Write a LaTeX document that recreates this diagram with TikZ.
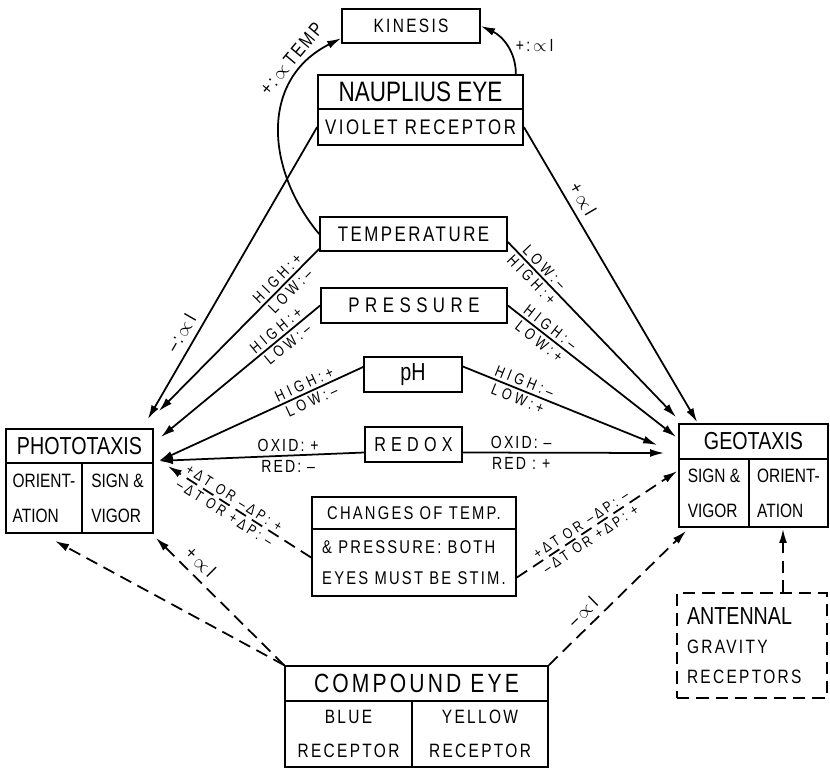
\documentclass[tikz,border=0pt]{standalone}
\usepackage{fontspec}
\setmainfont{Liberation Sans}[FakeStretch=0.8]
\newfontfamily\lsA{Liberation Sans}[FakeStretch=0.8,LetterSpace=12]
\newfontfamily\lsB{Liberation Sans}[FakeStretch=0.8,LetterSpace=26]
\newfontfamily\lsL{Liberation Sans}[FakeStretch=0.8,LetterSpace=25]
\newfontfamily\lsD{Liberation Sans}[FakeStretch=0.8,LetterSpace=21]
\usepackage{tikz}
\usetikzlibrary{arrows.meta, calc}

\tikzset{
  box/.style={draw, line width=1pt, inner sep=0pt},
  lnk/.style={line width=1pt, ->},
  dlnk/.style={line width=1pt, ->, dash pattern=on 7pt off 4pt},
  slbl/.style={font=\lsL\fontsize{9}{10}\selectfont, inner sep=1.5pt, sloped},
  dlbl/.style={font=\lsD\fontsize{8.5}{9}\selectfont, inner sep=1.5pt, sloped},
  plbl/.style={font=\lsA\fontsize{11}{12}\selectfont, inner sep=2pt, sloped},
  rlbl/.style={font=\lsA\fontsize{10}{11}\selectfont, inner sep=2pt},
}

\begin{document}
\begin{tikzpicture}[x=0.02cm, y=0.02cm, >={Latex[length=8pt,width=4.5pt]}]
    \useasboundingbox (0,0) rectangle (830,769);

    % 1. Kinesis and nauplius eye
    \node[box, minimum width=2.76cm, minimum height=0.68cm, font=\lsA\fontsize{11}{12}\selectfont] (kinesis) at (411,743) {KINESIS};
    \node[box, minimum width=4.1cm, minimum height=0.68cm, font=\fontsize{16}{18}\selectfont] (naup) at (420.5,677) {NAUPLIUS EYE};
    \node[box, minimum width=4.1cm, minimum height=0.72cm, font=\lsA\fontsize{12}{14}\selectfont] (violet) at (420.5,642) {VIOLET RECEPTOR};

    % 2. Stimuli in the middle
    \node[box, minimum width=3.74cm, minimum height=0.68cm, font=\lsA\fontsize{12}{14}\selectfont] (temp) at (413.5,535) {TEMPERATURE};
    \node[box, minimum width=3.72cm, minimum height=0.70cm, font=\lsB\fontsize{12}{14}\selectfont] (press) at (414,463.5) {PRESSURE};
    \node[box, minimum width=1.96cm, minimum height=0.70cm, font=\fontsize{14}{16}\selectfont] (ph) at (413,394.5) {pH};
    \node[box, minimum width=1.94cm, minimum height=0.70cm, font=\lsB\fontsize{11.5}{13}\selectfont] (redox) at (413.5,324.5) {REDOX};
    \node[box, minimum width=4.08cm, minimum height=0.64cm, font=\lsA\fontsize{10.5}{12}\selectfont] (chgtop) at (414,256) {CHANGES OF TEMP.};
    \node[box, minimum width=4.08cm, minimum height=1.34cm, align=left, font=\lsA\fontsize{10.5}{17.5}\selectfont] (chgbot) at (414,206.5) {\& PRESSURE: BOTH\\EYES MUST BE STIM.};

    % 3. Phototaxis and geotaxis
    \node[box, minimum width=2.94cm, minimum height=0.68cm, font=\fontsize{14}{16}\selectfont] (photo) at (79.5,323) {PHOTOTAXIS};
    \node[box, minimum width=1.52cm, minimum height=1.40cm, align=left, font=\fontsize{11}{20}\selectfont] (photoL) at (44,271) {ORIENT-\\ATION};
    \node[box, minimum width=1.42cm, minimum height=1.40cm, align=left, font=\fontsize{11}{20}\selectfont] (photoR) at (117.5,271) {SIGN \&\\VIGOR};
    \node[box, minimum width=2.98cm, minimum height=0.70cm, font=\fontsize{14}{16}\selectfont] (geo) at (753.5,327.5) {GEOTAXIS};
    \node[box, minimum width=1.40cm, minimum height=1.36cm, align=left, font=\fontsize{11}{20}\selectfont] (geoL) at (714,276) {SIGN \&\\VIGOR};
    \node[box, minimum width=1.58cm, minimum height=1.36cm, align=left, font=\fontsize{11}{20}\selectfont] (geoR) at (788.5,276) {ORIENT-\\ATION};

    % 4. Receptors below
    \node[box, dash pattern=on 7pt off 4pt, minimum width=3.0cm, minimum height=2.10cm, text width=2.6cm, align=left, font=\lsA\fontsize{11}{17}\selectfont] (ant) at (752,123.5) {{\normalfont\fontsize{14}{16}\selectfont ANTENNAL}\\GRAVITY\\RECEPTORS};
    \node[box, minimum width=5.26cm, minimum height=0.70cm, font=\lsA\fontsize{15}{17}\selectfont] (comp) at (416.5,85.5) {COMPOUND EYE};
    \node[box, minimum width=2.54cm, minimum height=1.32cm, align=center, font=\lsA\fontsize{11}{19}\selectfont] (compL) at (348.5,35) {BLUE\\RECEPTOR};
    \node[box, minimum width=2.72cm, minimum height=1.32cm, align=center, font=\lsA\fontsize{11}{19}\selectfont] (compR) at (480,35) {YELLOW\\RECEPTOR};

    % 5. Arrows to kinesis
    \draw[lnk] ([shift={(-8,0)}]naup.north east) to[out=90, in=-25]
        node[pos=0.5, right=3pt, rlbl] {+:\,$\propto$\,I} (kinesis.east);
    \draw[lnk] (temp.west) .. controls (265,600) and (260,690) ..
        node[plbl, pos=0.8, above=2pt] {+:\,$\propto$\,TEMP} (kinesis.-170);

    % 6. Solid arrows to phototaxis
    \draw[lnk] (violet.west) -- node[plbl, pos=0.73, above=2pt] {–:\,$\propto$\,I} ([shift={(-6,9)}]photo.north east);
    \draw[lnk] ([shift={(0,3)}]temp.south west) -- node[slbl, pos=0.22, above] {HIGH:+}
        node[slbl, pos=0.22, below] {LOW:–} ([shift={(5,17)}]photo.north east);
    \draw[lnk] (press.west) -- node[slbl, pos=0.24, above] {HIGH:+}
        node[slbl, pos=0.24, below] {LOW:–} ([shift={(7,-9)}]photo.north east);
    \draw[lnk] ([shift={(0,7.5)}]ph.west) -- node[slbl, pos=0.27, above] {HIGH:+}
        node[slbl, pos=0.27, below] {LOW:–} ([shift={(5,3)}]photo.south east);
    \draw[lnk] ([shift={(0,-8)}]redox.west) -- node[rlbl, pos=0.37, above] {OXID: +}
        node[rlbl, pos=0.37, below] {RED: –} ([shift={(5,3)}]photo.south east);

    % 7. Solid arrows to geotaxis
    \draw[lnk] (violet.east) -- node[plbl, pos=0.27, above=2pt] {+\,$\propto$\,I} ([shift={(19,1)}]geo.north west);
    \draw[lnk] ([shift={(0,-8)}]temp.east) -- node[slbl, pos=0.18, above] {LOW:–}
        node[slbl, pos=0.18, below] {HIGH:+} ([shift={(-2,6)}]geo.north west);
    \draw[lnk] (press.east) -- node[slbl, pos=0.22, above] {HIGH:–}
        node[slbl, pos=0.22, below] {LOW:+} ([shift={(-2,4.5)}]geo.west);
    \draw[lnk] ([shift={(0,8)}]ph.east) -- node[slbl, pos=0.3, above] {HIGH:–}
        node[slbl, pos=0.3, below] {LOW:+} ([shift={(-21,-3.5)}]geo.west);
    \draw[lnk] ([shift={(0,-8)}]redox.east) -- node[rlbl, pos=0.29, above] {OXID: –}
        node[rlbl, pos=0.29, below] {RED : +} ([shift={(-14,-11.5)}]geo.west);

    % 8. Dashed arrows
    \draw[dlnk] ([shift={(0,5)}]chgbot.west) -- node[dlbl, pos=0.57, above] {+ΔT OR –ΔP: +}
        node[dlbl, pos=0.57, below] {–ΔT OR +ΔP: –} ([shift={(14,-4)}]photoR.north east);
    \draw[dlnk] ([shift={(0,-15)}]chgbot.east) -- node[dlbl, pos=0.43, above] {+ΔT OR –ΔP: –}
        node[dlbl, pos=0.43, below] {–ΔT OR +ΔP: +} ([shift={(-1,-13)}]geoL.north west);
    \draw[dlnk] (comp.north west) -- ([shift={(11,-7)}]photoL.south);
    \draw[dlnk] (comp.north west) -- node[plbl, pos=0.73, above=2pt] {+\,$\propto$\,I} ([shift={(2,-4)}]photoR.south east);
    \draw[dlnk] (comp.north east) -- node[plbl, pos=0.32, above=2pt] {–\,$\propto$\,I} ([shift={(8,-3)}]geoL.south west);
    \draw[dlnk] ([shift={(31,0)}]ant.north) -- ([shift={(-5.5,-1)}]geoR.south);
\end{tikzpicture}
\end{document}
